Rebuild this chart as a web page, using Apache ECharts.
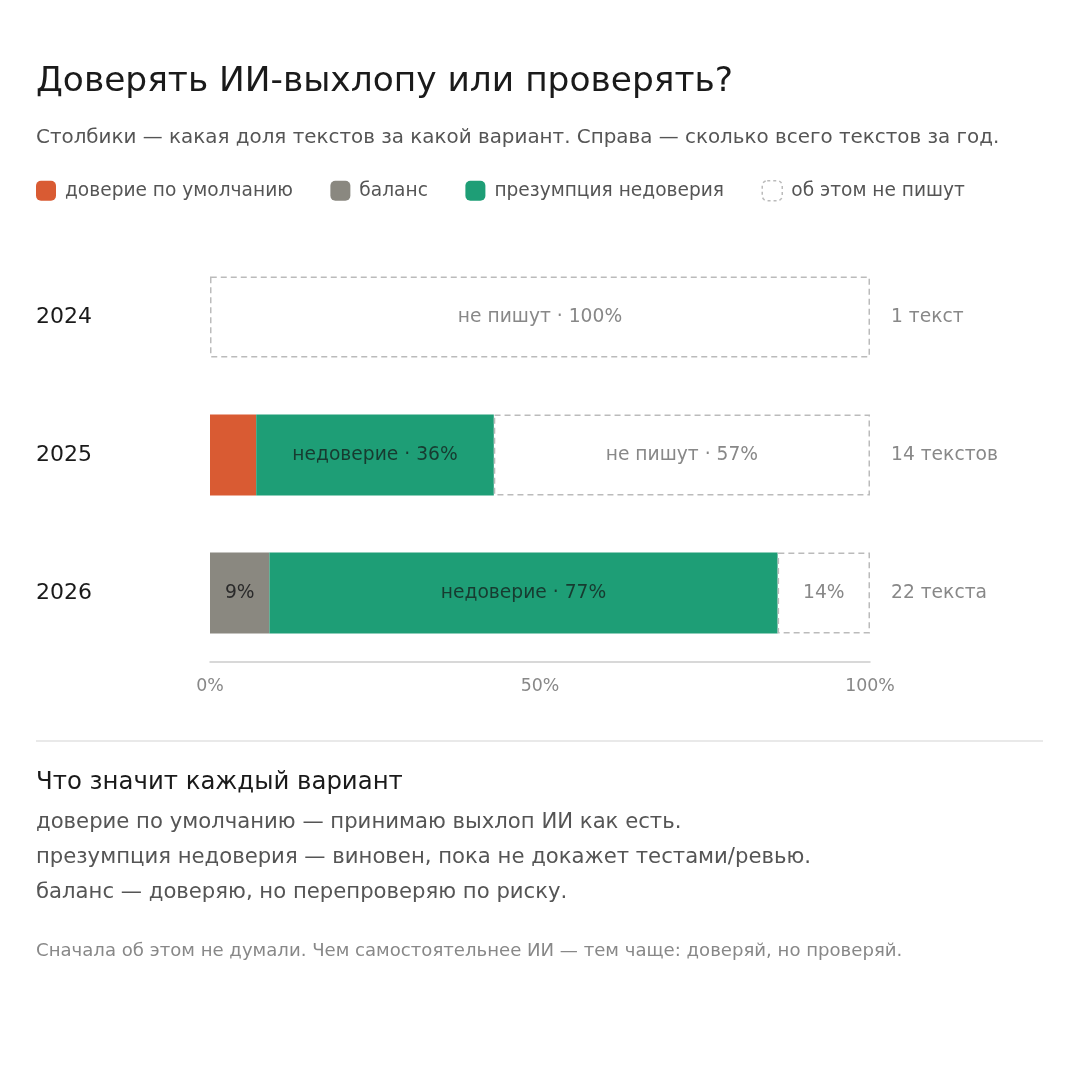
<!DOCTYPE html>
<html>
<head>
<meta charset="utf-8">
<script src="https://cdn.jsdelivr.net/npm/echarts@6/dist/echarts.min.js"></script>
<style>
  html, body { margin: 0; padding: 0; background: #fff; }
  #chart { width: 1080px; height: 1080px; }
</style>
</head>
<body>
<div id="chart"></div>
<script>
// данные
var years = ['2024', '2025', '2026'];
var totals = ['1 текст', '14 текстов', '22 текста'];
var trustDefault = [0, 7, 0];
var balance = [0, 0, 9];
var distrust = [0, 36, 77];
var notWriting = [100, 57, 14];
var xTicks = ['0%', '50%', '100%'];

var FONT = 'DejaVu Sans';
var chart = echarts.init(document.getElementById('chart'));

// текст по базовой линии
function txt(x, baseline, text, size, color) {
  return {
    type: 'text', x: x, y: baseline - size * 0.3,
    style: {
      text: text, font: size + 'px "' + FONT + '"', fill: color,
      verticalAlign: 'middle', align: 'left'
    }
  };
}

var option = {
  backgroundColor: '#ffffff',
  textStyle: { fontFamily: FONT },
  animation: false,
  legend: {
    left: 36,
    top: 180,
    padding: 0,
    itemWidth: 20,
    itemHeight: 20,
    itemGap: 37.5,
    icon: 'roundRect',
    textStyle: { fontSize: 18.6, color: '#555555', padding: [0, 0, 0, 4] },
    data: [
      'доверие по умолчанию', 'баланс', 'презумпция недоверия',
      { name: 'об этом не пишут', itemStyle: { color: '#ffffff', borderColor: '#bbbbbb', borderWidth: 1.5, borderType: [3, 3] } }
    ]
  },
  grid: { left: 210, right: 210, top: 248, bottom: 418 },
  xAxis: {
    type: 'value',
    min: 0,
    max: 100,
    interval: 50,
    axisLine: { show: true, lineStyle: { color: '#cccccc', width: 1.5 } },
    axisTick: { show: false },
    splitLine: { show: false },
    axisLabel: {
      margin: 16,
      fontSize: 17.4,
      color: '#888888',
      formatter: function (v) { return xTicks[v / 50]; }
    }
  },
  yAxis: [{
    type: 'category',
    data: years,
    inverse: true,
    axisLine: { show: false },
    axisTick: { show: false },
    axisLabel: { align: 'left', margin: 174, fontSize: 22, color: '#1a1a1a' }
  }, {
    type: 'category',
    data: totals,
    inverse: true,
    position: 'right',
    axisLine: { show: false },
    axisTick: { show: false },
    axisLabel: { align: 'left', margin: 21, fontSize: 18.7, color: '#888888' }
  }],
  series: [{
    name: 'доверие по умолчанию',
    type: 'bar',
    stack: 'all',
    barWidth: 81,
    data: trustDefault,
    itemStyle: { color: '#D95B33' }
  }, {
    name: 'баланс',
    type: 'bar',
    stack: 'all',
    data: balance,
    itemStyle: { color: '#8A8880' },
    label: {
      show: true,
      fontSize: 18.7,
      color: '#2a2a2a',
      formatter: function (p) { return p.value > 0 ? p.value + '%' : ''; }
    }
  }, {
    name: 'презумпция недоверия',
    type: 'bar',
    stack: 'all',
    data: distrust,
    itemStyle: { color: '#1E9E76' },
    label: {
      show: true,
      fontSize: 18.7,
      color: '#173b30',
      formatter: function (p) { return p.value > 0 ? 'недоверие · ' + p.value + '%' : ''; }
    }
  }, {
    name: 'об этом не пишут',
    type: 'bar',
    stack: 'all',
    data: notWriting,
    itemStyle: { color: '#ffffff', borderColor: '#bbbbbb', borderWidth: 1.5, borderType: [6, 4] },
    label: {
      show: true,
      fontSize: 18.7,
      color: '#888888',
      formatter: function (p) { return p.value >= 50 ? 'не пишут · ' + p.value + '%' : p.value + '%'; }
    }
  }],
  graphic: [
    txt(36, 92, 'Доверять ИИ-выхлопу или проверять?', 34.4, '#1a1a1a'),
    txt(36, 144, 'Столбики — какая доля текстов за какой вариант. Справа — сколько всего текстов за год.', 19.9, '#555555'),
    {
      type: 'line',
      shape: { x1: 36, y1: 741, x2: 1043, y2: 741 },
      style: { stroke: '#e2e2e2', lineWidth: 1.5 }
    },
    txt(36, 790, 'Что значит каждый вариант', 24.4, '#1a1a1a'),
    txt(36, 829, 'доверие по умолчанию — принимаю выхлоп ИИ как есть.', 21.2, '#555555'),
    txt(36, 864, 'презумпция недоверия — виновен, пока не докажет тестами/ревью.', 21.2, '#555555'),
    txt(36, 899, 'баланс — доверяю, но перепроверяю по риску.', 21.2, '#555555'),
    txt(36, 957, 'Сначала об этом не думали. Чем самостоятельнее ИИ — тем чаще: доверяй, но проверяй.', 18.1, '#888888')
  ]
};

chart.setOption(option);
</script>
</body>
</html>
